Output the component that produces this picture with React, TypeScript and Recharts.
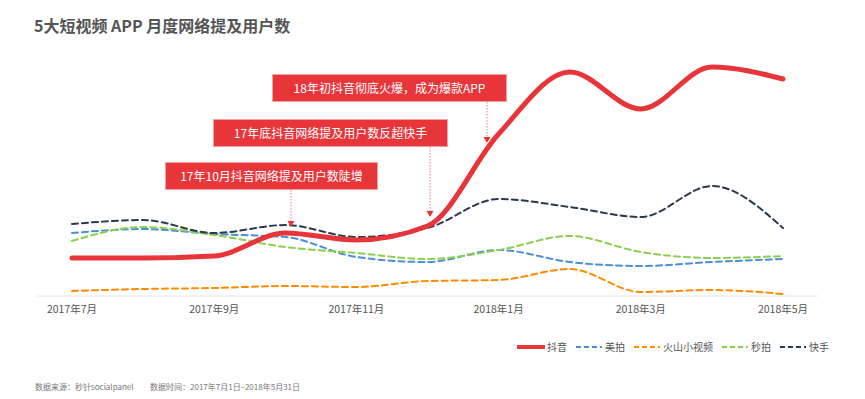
import React from "react";
import { LineChart, Line, XAxis, YAxis } from "recharts";

const months = [
  "2017年7月", "2017年8月", "2017年9月", "2017年10月", "2017年11月", "2017年12月",
  "2018年1月", "2018年2月", "2018年3月", "2018年4月", "2018年5月",
];
const douyin = [38, 38, 40, 63, 56, 70, 162, 224, 187, 229, 217];
const meipai = [63, 67, 62, 59, 39, 34, 46, 34, 30, 34, 37];
const huoshan = [5, 7, 8, 10, 9, 15, 16, 27, 4, 6, 2];
const miaopai = [55, 69, 61, 49, 43, 37, 46, 60, 44, 38, 40];
const kuaishou = [72, 76, 63, 71, 59, 68, 97, 89, 79, 110, 68];

const FONT = '"Noto Sans CJK SC", "Microsoft YaHei", sans-serif';
const RED = "#e8353a";

const SERIES = [
  { key: "douyin", name: "抖音", color: RED, width: 5, dash: undefined as string | undefined },
  { key: "meipai", name: "美拍", color: "#4a90d9", width: 2, dash: "6 4" },
  { key: "huoshan", name: "火山小视频", color: "#ff8a00", width: 2, dash: "6 4" },
  { key: "miaopai", name: "秒拍", color: "#8ccf4d", width: 2, dash: "6 4" },
  { key: "kuaishou", name: "快手", color: "#2b3a4a", width: 2, dash: "6 4" },
];

const data = months.map((m, i) => ({
  month: m,
  douyin: douyin[i],
  meipai: meipai[i],
  huoshan: huoshan[i],
  miaopai: miaopai[i],
  kuaishou: kuaishou[i],
}));

const NOTES = [
  { text: "18年初抖音彻底火爆，成为爆款APP", left: 272, top: 74, width: 235, ax: 487, ay1: 102, ay2: 143 },
  { text: "17年底抖音网络提及用户数反超快手", left: 213, top: 119, width: 235, ax: 430, ay1: 147, ay2: 217 },
  { text: "17年10月抖音网络提及用户数陡增", left: 165, top: 162, width: 213, ax: 291, ay1: 190, ay2: 227 },
];

export default function App() {
  // draw red last so it sits on top
  const order = [...SERIES.slice(1), SERIES[0]];
  return (
    <div style={{ position: "absolute", left: 0, top: 0, width: 865, height: 399, background: "#fff", fontFamily: FONT }}>
      <div style={{ position: "absolute", left: 34, top: 13, fontSize: 16, fontWeight: 700, color: "#555" }}>
        5大短视频 APP 月度网络提及用户数
      </div>

      <LineChart width={865} height={399} data={data} margin={{ top: 46, right: 47, left: 37, bottom: 73 }}>
        <XAxis
          dataKey="month"
          interval={1}
          padding={{ left: 35, right: 35 }}
          axisLine={{ stroke: "#e6e6e6" }}
          tickLine={false}
          tickMargin={4}
          height={30}
          tick={{ fontSize: 10.5, fill: "#555", fontFamily: FONT }}
        />
        <YAxis hide domain={[0, 250]} />
        {order.map((s) => (
          <Line
            key={s.key}
            type="monotone"
            dataKey={s.key}
            name={s.name}
            stroke={s.color}
            strokeWidth={s.width}
            strokeDasharray={s.dash}
            strokeLinecap="round"
            dot={false}
            isAnimationActive={false}
          />
        ))}
      </LineChart>

      <svg width={865} height={399} style={{ position: "absolute", left: 0, top: 0, pointerEvents: "none" }}>
        {NOTES.map((n, i) => (
          <g key={i}>
            <line x1={n.ax} x2={n.ax} y1={n.ay1} y2={n.ay2 - 5} stroke="#ef7b7e" strokeWidth={1} strokeDasharray="1.5 1.5" />
            <polygon points={`${n.ax - 3.5},${n.ay2 - 6} ${n.ax + 3.5},${n.ay2 - 6} ${n.ax},${n.ay2}`} fill={RED} />
          </g>
        ))}
      </svg>

      {NOTES.map((n, i) => (
        <div
          key={i}
          style={{
            position: "absolute",
            left: n.left,
            top: n.top,
            width: n.width,
            height: 28,
            boxSizing: "border-box",
            background: RED,
            border: "1px solid #f3a0a2",
            color: "#fff",
            fontSize: 12,
            lineHeight: "26px",
            textAlign: "center",
          }}
        >
          {n.text}
        </div>
      ))}

      <div style={{ position: "absolute", left: 517, top: 339, display: "flex", alignItems: "center", fontSize: 10, color: "#555" }}>
        {SERIES.map((s) => (
          <div key={s.key} style={{ display: "flex", alignItems: "center", marginRight: 8 }}>
            <svg width={28} height={8}>
              <line
                x1={1}
                x2={27}
                y1={4}
                y2={4}
                stroke={s.color}
                strokeWidth={s.width === 5 ? 4 : 2}
                strokeDasharray={s.dash ? "5 3" : undefined}
                strokeLinecap={s.dash ? "butt" : "round"}
              />
            </svg>
            <span style={{ marginLeft: 2 }}>{s.name}</span>
          </div>
        ))}
      </div>

      <div style={{ position: "absolute", left: 35, top: 381, fontSize: 8, color: "#777", whiteSpace: "nowrap" }}>
        数据来源：秒针socialpanel
      </div>
      <div style={{ position: "absolute", left: 150, top: 381, fontSize: 8, color: "#777", whiteSpace: "nowrap" }}>
        数据时间：2017年7月1日–2018年5月31日
      </div>
    </div>
  );
}
